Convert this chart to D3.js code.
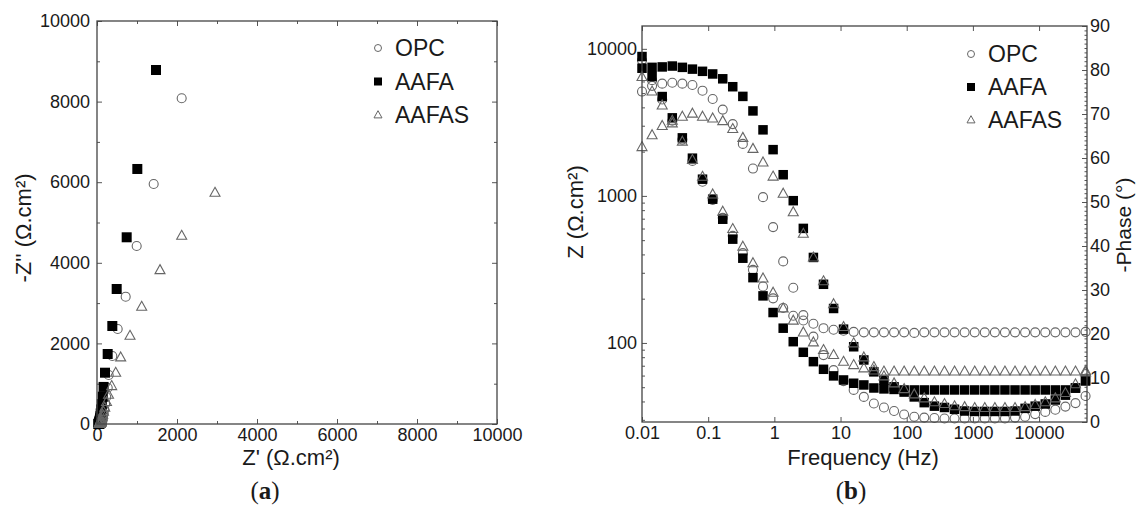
<!DOCTYPE html>
<html>
<head>
<meta charset="utf-8">
<script src="https://cdnjs.cloudflare.com/ajax/libs/d3/7.8.5/d3.min.js"></script>
<style>
  body { margin: 0; background: #fff; }
  svg text { font-family: "Liberation Sans", Arial, sans-serif; fill: #1a1a1a; }
  .axis path { display: none; }
  .axis line { stroke: #555; stroke-width: 1; }
  .axis text { font-size: 18px; }
</style>
</head>
<body>
<div id="chart"></div>
<script>
// ---- data ----
var seriesNames = ["OPC", "AAFA", "AAFAS"];

// (a) Nyquist: Z' and -Z'' in Ohm.cm2
var opcZre = [2117, 1417, 992, 717, 517, 383, 292, 268, 231, 203, 184, 168, 152, 144, 139, 132, 129, 127, 122, 120, 119, 117,
  118, 118, 118, 118, 118, 118, 118, 118, 118, 118, 118, 118, 118, 118, 118, 118, 118, 118, 118, 118, 118, 118, 119];
var opcZim = [8082, 5955, 4417, 3159, 2357, 1687, 1216, 900, 670, 495, 364, 265, 188, 140, 103, 78, 58, 45, 33, 25, 20, 15,
  11.7, 8.6, 6.8, 5.1, 3.5, 2.5, 2, 1.9, 1.6, 1.6, 1.6, 1.6, 1.6, 1.6, 1.6, 2, 2.5, 3.7, 4.7, 5.8, 7.2, 8.8, 12];
var aafaZre = [1475, 1008, 742, 492, 383, 267, 200, 165, 144, 121, 104, 92, 84, 76, 70, 65, 62, 59, 57, 54, 52, 51,
  50, 48, 48, 48, 48, 48, 48, 48, 48, 48, 48, 48, 48, 48, 48, 48, 48, 48, 48, 48, 48, 49, 54];
var aafaZim = [8784, 6328, 4633, 3350, 2432, 1737, 1273, 920, 679, 493, 362, 262, 192, 142, 105, 78, 60, 45, 34, 26, 20, 16,
  12.6, 9.8, 8, 6.7, 5.7, 4.8, 3.7, 3, 2.8, 2.4, 2.1, 2, 2, 2, 2, 2.1, 2.6, 3, 3.4, 4.2, 5.1, 6.6, 9.1];
var aafasZre = [2950, 2117, 1575, 1117, 825, 592, 467, 367, 288, 237, 194, 163, 142, 124, 106, 96, 87, 80, 76, 74, 69, 67,
  65, 63, 63, 63, 63, 64, 64, 64, 64, 64, 64, 64, 64, 64, 64, 64, 64, 64, 64, 64, 64, 63, 63];
var aafasZim = [5740, 4673, 3821, 2911, 2191, 1655, 1273, 943, 727, 547, 408, 308, 236, 182, 135, 105, 80, 61, 47, 37, 27, 22,
  17, 14, 11.6, 9.8, 8.4, 7, 6, 5, 4.6, 4, 3.8, 3.6, 3.6, 3.6, 3.6, 3.6, 3.8, 4.4, 5, 6, 7.4, 9.6, 12.7];

// (b) Bode: frequency (Hz), |Z| (Ohm.cm2), -phase (deg)
var freq = [0.01, 0.0142, 0.0202, 0.0287, 0.0407, 0.0578, 0.0821, 0.117, 0.166, 0.235,
  0.334, 0.475, 0.674, 0.957, 1.36, 1.93, 2.74, 3.89, 5.53, 7.85,
  11.1, 15.8, 22.5, 31.9, 45.3, 64.4, 91.4, 130, 184, 262,
  372, 528, 750, 1065, 1512, 2148, 3050, 4330, 6150, 8735,
  12400, 17600, 25000, 35500, 50400];
var opcModZ = [8355, 6124, 4528, 3243, 2415, 1730, 1249, 939, 709, 535,
  408, 314, 242, 201, 173, 153, 142, 135, 126, 123,
  121, 119, 118, 118, 118, 118, 118, 117, 118, 118,
  118, 118, 118, 118, 118, 118, 118, 118, 118, 118,
  118, 118, 118, 118, 119];
var opcPhase = [75.1, 76.4, 76.9, 77.1, 76.9, 76.6, 75.3, 73.4, 71.0, 67.7,
  63.2, 57.6, 51.1, 44.3, 36.5, 30.5, 24.3, 19.4, 15.2, 11.8,
  9.3, 7.3, 5.7, 4.2, 3.3, 2.5, 1.7, 1.2, 1.0, 0.9,
  0.8, 0.8, 0.8, 0.8, 0.8, 0.8, 0.8, 1.0, 1.2, 1.8,
  2.3, 2.8, 3.5, 4.3, 5.9];
var aafaModZ = [8864, 6479, 4737, 3394, 2481, 1805, 1299, 950, 694, 508,
  377, 278, 209, 161, 126, 102, 86.4, 74.6, 66.2, 59.7,
  56.0, 53.2, 51.8, 49.4, 48.7, 48.3, 47.9, 47.9, 47.9, 47.9,
  47.9, 47.9, 47.9, 47.9, 47.9, 47.9, 47.9, 47.9, 47.9, 47.9,
  47.9, 47.9, 47.9, 49.4, 55.1];
var aafaPhase = [80.4, 80.6, 80.7, 80.9, 80.6, 80.2, 79.7, 79.1, 78.0, 76.2,
  74.0, 70.7, 66.4, 61.9, 56.2, 50.3, 44.0, 37.4, 31.3, 25.8,
  21.1, 17.1, 14.1, 11.4, 9.5, 8.0, 6.8, 5.7, 4.4, 3.6,
  3.3, 2.9, 2.5, 2.4, 2.4, 2.4, 2.4, 2.5, 3.1, 3.6,
  4.1, 5.0, 6.1, 7.7, 9.5];
var aafasModZ = [6450, 5130, 4127, 3118, 2341, 1757, 1351, 1024, 782, 596,
  452, 349, 275, 220, 172, 142, 118, 101, 89.6, 82.9,
  74.6, 70.8, 67.3, 65.0, 64.0, 64.0, 64.0, 64.0, 64.0, 64.0,
  64.0, 64.0, 64.0, 64.0, 64.0, 64.0, 64.0, 64.0, 64.0, 64.0,
  64.0, 64.0, 64.0, 64.0, 64.5];
var aafasPhase = [62.5, 65.2, 67.3, 68.5, 69.4, 70.1, 69.4, 69.0, 68.4, 66.6,
  64.6, 62.1, 59.0, 55.8, 51.9, 47.7, 42.8, 37.4, 32.0, 26.8,
  21.6, 17.9, 14.7, 12.5, 10.4, 8.8, 7.5, 6.3, 5.4, 4.5,
  4.1, 3.6, 3.4, 3.2, 3.2, 3.2, 3.2, 3.2, 3.4, 3.9,
  4.5, 5.4, 6.6, 8.6, 11.3];

// tick values
var nyqMajor = [0, 2000, 4000, 6000, 8000, 10000];
var nyqMinor = [1000, 3000, 5000, 7000, 9000];
var freqTicks = [0.01, 0.1, 1, 10, 100, 1000, 10000];
var freqTickLabels = ["0.01", "0.1", "1", "10", "100", "1000", "10000"];
var zMajor = [100, 1000, 10000];
var zMinor = [30, 40, 50, 60, 70, 80, 90, 200, 300, 400, 500, 600, 700, 800, 900,
  2000, 3000, 4000, 5000, 6000, 7000, 8000, 9000];
var phaseMajor = [0, 10, 20, 30, 40, 50, 60, 70, 80, 90];
var phaseMinor = d3.range(0, 91).filter(function(d) { return d % 10 !== 0; });

var W = 1137, H = 508;
var svg = d3.select("#chart").append("svg")
  .attr("width", W).attr("height", H);
svg.append("rect").attr("width", W).attr("height", H).attr("fill", "#fff");

var markStroke = "#666";

// draw one series of markers
function addMarks(g, xs, ys, xv, yv, shape, size) {
  var pts = d3.zip(xv, yv);
  var sel = g.append("g").selectAll(null).data(pts).enter();
  if (shape === "circle") {
    sel.append("circle")
      .attr("cx", function(d) { return xs(d[0]); })
      .attr("cy", function(d) { return ys(d[1]); })
      .attr("r", size / 2)
      .attr("fill", "none").attr("stroke", markStroke).attr("stroke-width", 1.1);
  } else if (shape === "square") {
    sel.append("rect")
      .attr("x", function(d) { return xs(d[0]) - size / 2; })
      .attr("y", function(d) { return ys(d[1]) - size / 2; })
      .attr("width", size).attr("height", size)
      .attr("fill", "#000");
  } else {
    sel.append("path")
      .attr("d", function(d) { return triPath(xs(d[0]), ys(d[1]), size); })
      .attr("fill", "none").attr("stroke", markStroke).attr("stroke-width", 1.1);
  }
}

function triPath(x, y, s) {
  var h = s * 0.9;
  return "M" + x + "," + (y - h * 0.6) + "L" + (x + s / 2) + "," + (y + h * 0.4) +
    "L" + (x - s / 2) + "," + (y + h * 0.4) + "Z";
}

function legend(g, x, y0, step, fs) {
  var shapes = ["circle", "square", "triangle"];
  seriesNames.forEach(function(name, i) {
    var y = y0 + i * step;
    if (shapes[i] === "circle") {
      g.append("circle").attr("cx", x).attr("cy", y).attr("r", 3.5)
        .attr("fill", "none").attr("stroke", markStroke).attr("stroke-width", 1);
    } else if (shapes[i] === "square") {
      g.append("rect").attr("x", x - 4).attr("y", y - 4).attr("width", 8).attr("height", 8).attr("fill", "#000");
    } else {
      g.append("path").attr("d", triPath(x, y, 8))
        .attr("fill", "none").attr("stroke", markStroke).attr("stroke-width", 1);
    }
    g.append("text").attr("x", x + 17).attr("y", y).attr("dy", "0.36em")
      .style("font-size", fs + "px").text(name);
  });
}

function frame(g, x0, y0, x1, y1) {
  g.append("rect").attr("x", x0).attr("y", y0).attr("width", x1 - x0).attr("height", y1 - y0)
    .attr("fill", "none").attr("stroke", "#444").attr("stroke-width", 1.3);
}

// ================= panel (a) =================
var ga = svg.append("g");
var xA = d3.scaleLinear().domain([0, 10000]).range([97, 497]);
var yA = d3.scaleLinear().domain([0, 10000]).range([424, 21]);

ga.append("g").attr("class", "axis").attr("transform", "translate(0,424)")
  .call(d3.axisBottom(xA).tickValues(nyqMajor).tickSize(-5).tickPadding(4).tickFormat(d3.format("d")));
ga.append("g").attr("class", "axis").attr("transform", "translate(0,424)")
  .call(d3.axisBottom(xA).tickValues(nyqMinor).tickSize(-3).tickFormat(""));
ga.append("g").attr("class", "axis").attr("transform", "translate(0,21)")
  .call(d3.axisTop(xA).tickValues(nyqMajor).tickSize(-5).tickFormat(""));
ga.append("g").attr("class", "axis").attr("transform", "translate(0,21)")
  .call(d3.axisTop(xA).tickValues(nyqMinor).tickSize(-3).tickFormat(""));
ga.append("g").attr("class", "axis").attr("transform", "translate(97,0)")
  .call(d3.axisLeft(yA).tickValues(nyqMajor).tickSize(-5).tickPadding(7).tickFormat(d3.format("d")));
ga.append("g").attr("class", "axis").attr("transform", "translate(97,0)")
  .call(d3.axisLeft(yA).tickValues(nyqMinor).tickSize(-3).tickFormat(""));
ga.append("g").attr("class", "axis").attr("transform", "translate(497,0)")
  .call(d3.axisRight(yA).tickValues(nyqMajor).tickSize(-5).tickFormat(""));
ga.append("g").attr("class", "axis").attr("transform", "translate(497,0)")
  .call(d3.axisRight(yA).tickValues(nyqMinor).tickSize(-3).tickFormat(""));

var pa = ga.append("g");
addMarks(pa, xA, yA, opcZre, opcZim, "circle", 9);
addMarks(pa, xA, yA, aafaZre, aafaZim, "square", 10);
addMarks(pa, xA, yA, aafasZre, aafasZim, "triangle", 10);
frame(ga, 97, 21, 497, 424);

ga.append("text").attr("x", 291).attr("y", 457).attr("dy", "0.35em").attr("text-anchor", "middle")
  .style("font-size", "22px").text("Z' (\u03A9.cm\u00B2)");
ga.append("text").attr("transform", "translate(23,228) rotate(-90)").attr("dy", "0.35em")
  .attr("text-anchor", "middle").style("font-size", "22px").text("-Z'' (\u03A9.cm\u00B2)");
legend(ga, 378, 48, 33.5, 23);

var labA = ga.append("text").attr("x", 265).attr("y", 490).attr("dy", "0.35em").attr("text-anchor", "middle")
  .style("font-family", "'Liberation Serif', 'Times New Roman', serif").style("font-size", "25px");
labA.append("tspan").text("(");
labA.append("tspan").style("font-weight", "bold").text("a");
labA.append("tspan").text(")");

// ================= panel (b) =================
var gb = svg.append("g");
var xB = d3.scaleLog().domain([0.01, 53000]).range([642, 1087]);
var yZ = d3.scaleLog().domain([29, 14300]).range([422, 26]);
var yP = d3.scaleLinear().domain([0, 90]).range([422, 26]);

gb.append("g").attr("class", "axis").attr("transform", "translate(0,422)")
  .call(d3.axisBottom(xB).tickValues(freqTicks).tickSize(-5).tickPadding(4)
    .tickFormat(function(d, i) { return freqTickLabels[i]; }));
gb.append("g").attr("class", "axis").attr("transform", "translate(0,26)")
  .call(d3.axisTop(xB).tickValues(freqTicks).tickSize(-5).tickFormat(""));
gb.append("g").attr("class", "axis").attr("transform", "translate(642,0)")
  .call(d3.axisLeft(yZ).tickValues(zMajor).tickSize(-5).tickPadding(5).tickFormat(d3.format("d")));
gb.append("g").attr("class", "axis").attr("transform", "translate(642,0)")
  .call(d3.axisLeft(yZ).tickValues(zMinor).tickSize(-3).tickFormat(""));
gb.append("g").attr("class", "axis").attr("transform", "translate(1087,0)")
  .call(d3.axisRight(yP).tickValues(phaseMajor).tickSize(-5).tickPadding(3).tickFormat(d3.format("d")));
gb.append("g").attr("class", "axis").attr("transform", "translate(1087,0)")
  .call(d3.axisRight(yP).tickValues(phaseMinor).tickSize(-2.5).tickFormat(""));

var pb = gb.append("g");
addMarks(pb, xB, yZ, freq, opcModZ, "circle", 9);
addMarks(pb, xB, yP, freq, opcPhase, "circle", 9);
addMarks(pb, xB, yZ, freq, aafaModZ, "square", 9.5);
addMarks(pb, xB, yP, freq, aafaPhase, "square", 9.5);
addMarks(pb, xB, yZ, freq, aafasModZ, "triangle", 10);
addMarks(pb, xB, yP, freq, aafasPhase, "triangle", 10);
frame(gb, 642, 26, 1087, 422);

gb.append("text").attr("x", 863).attr("y", 457).attr("dy", "0.35em").attr("text-anchor", "middle")
  .style("font-size", "22px").text("Frequency (Hz)");
gb.append("text").attr("transform", "translate(575,212) rotate(-90)").attr("dy", "0.35em")
  .attr("text-anchor", "middle").style("font-size", "22px").text("Z (\u03A9.cm\u00B2)");
gb.append("text").attr("transform", "translate(1124,225) rotate(-90)").attr("dy", "0.35em")
  .attr("text-anchor", "middle").style("font-size", "21px").text("-Phase (\u00B0)");
legend(gb, 971, 54, 33, 23);

var labB = gb.append("text").attr("x", 851).attr("y", 490).attr("dy", "0.35em").attr("text-anchor", "middle")
  .style("font-family", "'Liberation Serif', 'Times New Roman', serif").style("font-size", "25px");
labB.append("tspan").text("(");
labB.append("tspan").style("font-weight", "bold").text("b");
labB.append("tspan").text(")");
</script>
</body>
</html>
